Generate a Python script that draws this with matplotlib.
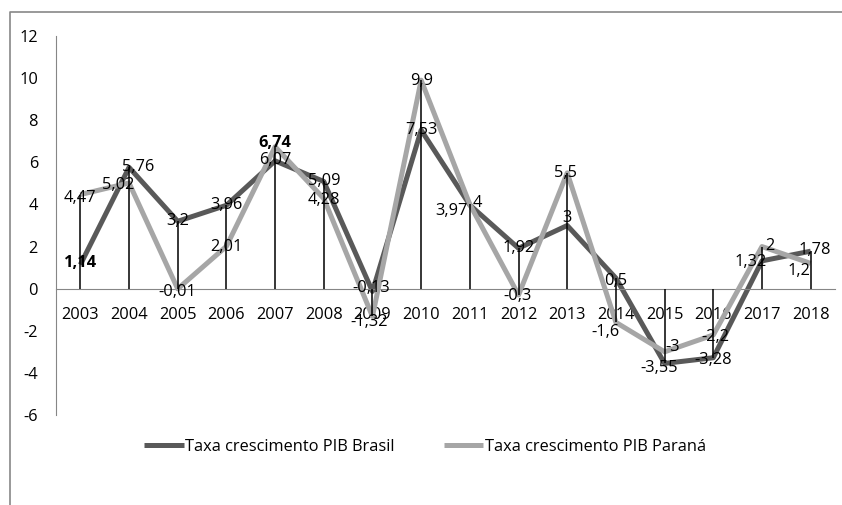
import matplotlib
matplotlib.use("Agg")
import matplotlib.pyplot as plt
from matplotlib.lines import Line2D
import numpy as np

plt.rcParams['font.family'] = ['Open Sans', 'DejaVu Sans']
plt.rcParams['axes.unicode_minus'] = False

anos = ['2003', '2004', '2005', '2006', '2007', '2008', '2009', '2010',
        '2011', '2012', '2013', '2014', '2015', '2016', '2017', '2018']
pib_brasil = [1.14, 5.76, 3.2, 3.96, 6.07, 5.09, -0.13, 7.53,
              3.97, 1.92, 3, 0.5, -3.55, -3.28, 1.32, 1.78]
pib_parana = [4.47, 5.02, -0.01, 2.01, 6.74, 4.28, -1.32, 9.9,
              4, -0.3, 5.5, -1.6, -3, -2.2, 2, 1.2]

# label offsets in pixels (dx, dy), so the numbers don't sit on top of each other
off_brasil = [(0, 2), (9, 0), (0, 0), (0, 0), (0, 1), (0, 0), (-1, 3), (0, 0),
              (-18, -6), (0, 0), (0, 7), (0, -3), (-5, -5), (0, -2), (-11, -1), (4, 1)]
off_parana = [(0, -3), (-11, -2), (0, -3), (0, -1), (0, 4), (0, -1), (-3, -6), (0, -1),
              (8, 1), (-1, -1), (-2, 0), (-10, -10), (8, 5), (2, -2), (8, 1), (-12, -8)]
negrito_brasil = [0]
negrito_parana = [4]

cor_brasil = '#595959'
cor_parana = '#a6a6a6'
fs = 11.8

fig = plt.figure(figsize=(8.42, 5.05), dpi=100)
ax = fig.add_axes([56 / 842, 1 - 415 / 505, (835 - 56) / 842, (415 - 36) / 505])

x = np.arange(len(anos))
ax.plot(x, pib_brasil, color=cor_brasil, lw=3.6, solid_capstyle='butt', zorder=2,
        label='Taxa crescimento PIB Brasil')
ax.plot(x, pib_parana, color=cor_parana, lw=3.6, solid_capstyle='butt', zorder=3,
        label='Taxa crescimento PIB Paraná')

# drop lines from the category axis to the furthest point
lo = np.minimum(0, np.minimum(pib_brasil, pib_parana))
hi = np.maximum(0, np.maximum(pib_brasil, pib_parana))
ax.vlines(x, lo, hi, color='black', lw=1.1, zorder=4)


def rotulo(v):
    return ('%g' % v).replace('.', ',')


for serie, offs, negr in [(pib_brasil, off_brasil, negrito_brasil),
                          (pib_parana, off_parana, negrito_parana)]:
    for i, v in enumerate(serie):
        ax.annotate(rotulo(v), (x[i], v), xytext=offs[i], textcoords='offset pixels',
                    ha='center', va='center', fontsize=fs, color='black',
                    fontweight='bold' if i in negr else 'normal', zorder=5)

ax.set_xlim(-0.5, len(anos) - 0.5)
ax.set_ylim(-6, 12)
ax.set_yticks(np.arange(-6, 13, 2))
ax.set_xticks(x)
ax.set_xticklabels(anos)

for s in ['top', 'right']:
    ax.spines[s].set_visible(False)
ax.spines['bottom'].set_position(('data', 0))
ax.spines['bottom'].set_color('#868686')
ax.spines['left'].set_color('#868686')
ax.spines['left'].set_bounds(-6, 12)
ax.tick_params(axis='both', length=0, labelsize=fs)
ax.tick_params(axis='y', pad=13)
ax.tick_params(axis='x', pad=13)

fig.legend(loc='center', bbox_to_anchor=(0.505, 1 - 447 / 505), ncol=2, frameon=False,
           fontsize=fs, handlelength=2.4, handletextpad=0.1, columnspacing=3.0)

# outer chart border
fig.add_artist(Line2D([10 / 842, 10 / 842, 1], [0, 1 - 12 / 505, 1 - 12 / 505],
                      transform=fig.transFigure, color='#888888', lw=1.2))

fig.savefig('out.png', dpi=100)
